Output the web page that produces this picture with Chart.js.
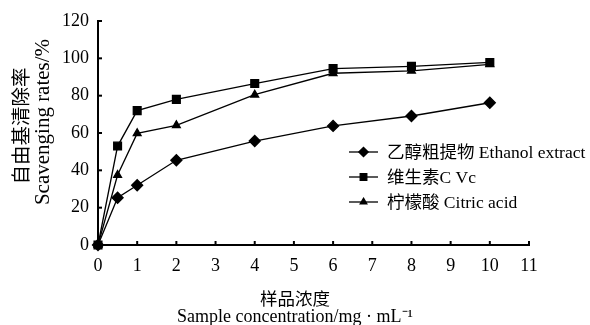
<!DOCTYPE html>
<html><head><meta charset="utf-8">
<script src="https://cdn.jsdelivr.net/npm/chart.js@4/dist/chart.umd.min.js"></script>
<style>html,body{margin:0;padding:0;background:#fff}#wrap{width:590px;height:325px}</style>
</head><body><div id="wrap"><canvas id="c" width="590" height="325"></canvas></div>
<script>
const concentrations = [0, 0.5, 1, 2, 4, 6, 8, 10];
const ethanolExtract = [0, 25.3, 32, 45.4, 55.7, 63.8, 69.1, 76.2];
const vitaminC = [0, 53, 72, 78, 86.5, 94.5, 95.7, 97.8];
const citricAcid = [0, 37.5, 59.8, 64.1, 80.5, 92, 93.3, 96.8];
const seriesNames = ['乙醇粗提物 Ethanol extract', '维生素C Vc', '柠檬酸 Citric acid'];
const yTitle = ['自由基清除率', 'Scavenging rates/%'];
const xTitle = ['样品浓度', 'Sample concentration/mg · mL⁻¹'];
const yTicks = [0, 20, 40, 60, 80, 100, 120];
const xTicks = [0,1,2,3,4,5,6,7,8,9,10,11];

const SERIF = '"Liberation Serif", "Times New Roman", serif';
const FONT = '"Liberation Serif", "Times New Roman", "Noto Sans CJK SC", serif';
const CJK = '"Noto Sans CJK SC", sans-serif';
const pts = (arr) => concentrations.map((x, i) => ({x, y: arr[i]}));

const ds = (label, data, style, r) => ({
  label, data: pts(data), borderColor: '#000', backgroundColor: '#000',
  borderWidth: 1.3, pointStyle: style, pointRadius: r, pointHoverRadius: r,
  tension: 0, clip: false
});

const inwardTicks = {
  id: 'inwardTicks',
  afterDatasetsDraw(chart) {
    const {ctx, scales: {x, y}} = chart;
    ctx.save();
    ctx.strokeStyle = '#000'; ctx.lineWidth = 2;
    xTicks.forEach(v => { const px = x.getPixelForValue(v); ctx.beginPath(); ctx.moveTo(px, y.bottom); ctx.lineTo(px, y.bottom - 4); ctx.stroke(); });
    yTicks.forEach(v => { const py = y.getPixelForValue(v); ctx.beginPath(); ctx.moveTo(x.left, py); ctx.lineTo(x.left + 4, py); ctx.stroke(); });
    ctx.restore();
  }
};

const axisTitles = {
  id: 'axisTitles',
  afterDraw(chart) {
    const {ctx} = chart;
    ctx.save();
    ctx.fillStyle = '#000';
    ctx.textAlign = 'center'; ctx.textBaseline = 'middle';
    // y title (rotated)
    ctx.save();
    ctx.translate(21, 126); ctx.rotate(-Math.PI / 2);
    ctx.font = '19.5px ' + CJK; ctx.fillText(yTitle[0], 0, 0);
    ctx.restore();
    ctx.save();
    ctx.translate(43, 122); ctx.rotate(-Math.PI / 2);
    ctx.font = '21px ' + SERIF; ctx.fillText(yTitle[1], 0, 0);
    ctx.restore();
    // x title
    ctx.font = '17.5px ' + CJK; ctx.fillText(xTitle[0], 295, 298);
    ctx.font = '18px ' + SERIF; ctx.fillText(xTitle[1], 295, 317);
    ctx.restore();
  }
};

const innerLegend = {
  id: 'innerLegend',
  afterDraw(chart) {
    const {ctx} = chart;
    const x0 = 349, lineLen = 29, textX = 387, rows = [152, 177, 202];
    ctx.save();
    chart.data.datasets.forEach((d, i) => {
      const yy = rows[i];
      ctx.strokeStyle = '#000'; ctx.lineWidth = 1.3;
      ctx.beginPath(); ctx.moveTo(x0, yy); ctx.lineTo(x0 + lineLen, yy); ctx.stroke();
      Chart.helpers.drawPoint(ctx, {pointStyle: d.pointStyle, radius: d.pointRadius * 0.85, borderWidth: 1}, x0 + lineLen / 2, yy);
      ctx.fillStyle = '#000';
      ctx.font = '17.5px ' + FONT;
      ctx.textBaseline = 'middle';
      ctx.fillText(seriesNames[i], textX, yy + 1);
    });
    ctx.restore();
  }
};

new Chart(document.getElementById('c'), {
  type: 'line',
  data: { datasets: [
    ds(seriesNames[0], ethanolExtract, 'rectRot', 5.5),
    ds(seriesNames[1], vitaminC, 'rect', 5.5),
    ds(seriesNames[2], citricAcid, 'triangle', 4.5)
  ]},
  options: {
    responsive: false, animation: false, devicePixelRatio: 1,
    layout: { padding: { top: 21, right: 61, left: 0, bottom: 0 } },
    plugins: { legend: { display: false }, tooltip: { enabled: false } },
    scales: {
      x: {
        type: 'linear', min: 0, max: 11,
        afterBuildTicks: (s) => { s.ticks = xTicks.map(v => ({value: v})); },
        afterFit: (s) => { s.height = 80; },
        grid: { display: true, drawOnChartArea: false, drawTicks: false },
        border: { color: '#000', width: 2 },
        ticks: { color: '#000', font: { family: FONT, size: 18 }, padding: 10, maxRotation: 0 },
        title: { display: false }
      },
      y: {
        min: 0, max: 120,
        afterBuildTicks: (s) => { s.ticks = yTicks.map(v => ({value: v})); },
        afterFit: (s) => { s.width = 98; },
        grid: { display: true, drawOnChartArea: false, drawTicks: false },
        border: { color: '#000', width: 2 },
        ticks: { color: '#000', font: { family: FONT, size: 18 }, padding: 9 },
        title: { display: false }
      }
    }
  },
  plugins: [inwardTicks, axisTitles, innerLegend]
});
</script>
</body></html>
